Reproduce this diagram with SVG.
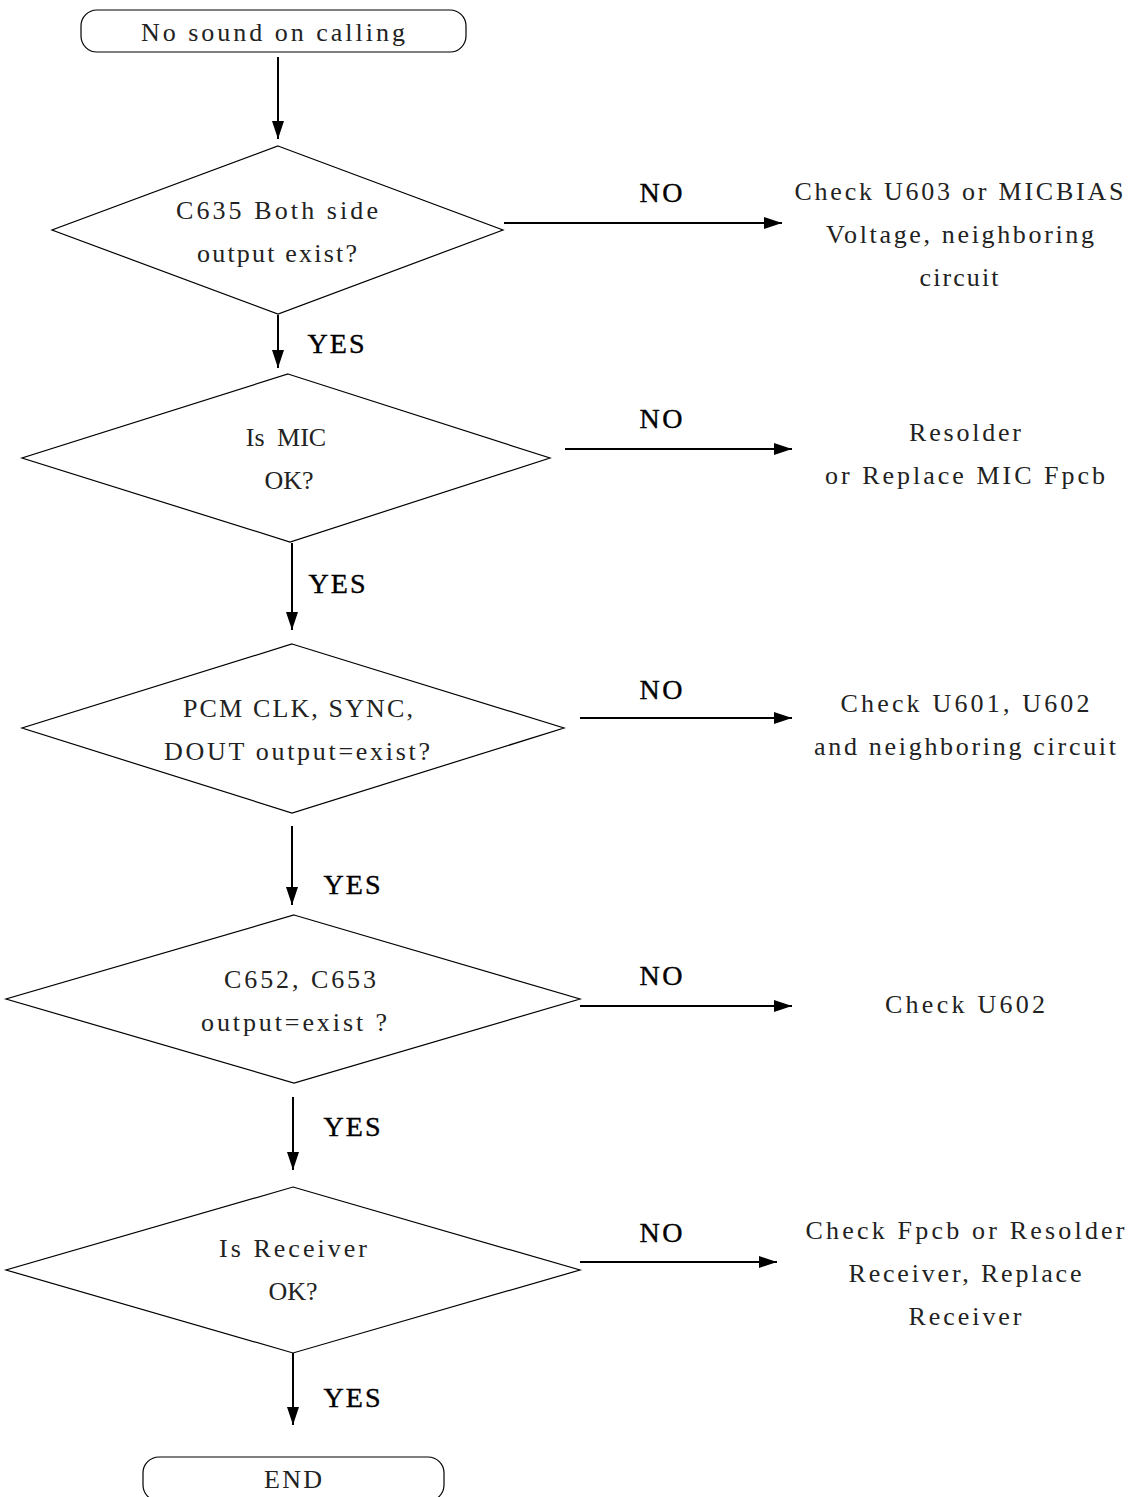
<svg xmlns="http://www.w3.org/2000/svg" width="1131" height="1497" viewBox="0 0 1131 1497">
<defs>
<marker id="ah" markerUnits="userSpaceOnUse" markerWidth="18" markerHeight="12" refX="18" refY="6" orient="auto">
<path d="M0,0 L18,6 L0,12 z" fill="#000"/>
</marker>
<style>
.shape{fill:#fff;stroke:#000;stroke-width:1.2}
.t{font-family:"Liberation Serif","DejaVu Serif",serif;font-size:26px;fill:#222;text-anchor:middle}
.lbl{font-family:"Liberation Serif","DejaVu Serif",serif;font-size:28px;fill:#000;text-anchor:middle;stroke:#000;stroke-width:0.4}
.c{stroke:#000;stroke-width:2;fill:none;marker-end:url(#ah)}
</style>
</defs>
<rect width="1131" height="1497" fill="#fff"/>
<g id="connectors">
<line class="c" x1="278" y1="57" x2="278" y2="139"/>
<line class="c" x1="278" y1="315" x2="278" y2="368"/>
<line class="c" x1="504" y1="223" x2="782" y2="223"/>
<line class="c" x1="292" y1="543" x2="292" y2="630"/>
<line class="c" x1="565" y1="449" x2="792" y2="449"/>
<line class="c" x1="580" y1="718" x2="792" y2="718"/>
<line class="c" x1="292" y1="826" x2="292" y2="905"/>
<line class="c" x1="580" y1="1006" x2="792" y2="1006"/>
<line class="c" x1="293" y1="1097" x2="293" y2="1170"/>
<line class="c" x1="580" y1="1262" x2="777" y2="1262"/>
<line class="c" x1="293" y1="1353" x2="293" y2="1425"/>
<text class="lbl" x="661" y="202" textLength="43">NO</text>
<text class="lbl" x="336" y="353" textLength="57">YES</text>
<text class="lbl" x="661" y="428" textLength="43">NO</text>
<text class="lbl" x="337" y="593" textLength="57">YES</text>
<text class="lbl" x="661" y="699" textLength="43">NO</text>
<text class="lbl" x="352" y="894" textLength="57">YES</text>
<text class="lbl" x="661" y="985" textLength="43">NO</text>
<text class="lbl" x="352" y="1136" textLength="57">YES</text>
<text class="lbl" x="661" y="1242" textLength="43">NO</text>
<text class="lbl" x="352" y="1407" textLength="57">YES</text>
</g>
<g id="start">
<rect class="shape" x="81" y="10" width="385" height="42" rx="16"/>
<text class="t" x="273" y="41" textLength="264">No sound on calling</text>
</g>
<g id="d1">
<polygon class="shape" points="278,146 503,230 278,314 52,230"/>
<text class="t" x="277" y="219" textLength="202">C635 Both side</text>
<text class="t" x="277" y="262" textLength="160">output exist?</text>
</g>
<g id="r1">
<text class="t" x="959" y="200" textLength="329">Check U603 or MICBIAS</text>
<text class="t" x="960" y="243" textLength="268">Voltage, neighboring</text>
<text class="t" x="959" y="286" textLength="79">circuit</text>
</g>
<g id="d2">
<polygon class="shape" points="288,374 550,458 290,542 22,458"/>
<text class="t" x="286" y="446" word-spacing="6">Is MIC</text>
<text class="t" x="289" y="489">OK?</text>
</g>
<g id="r2">
<text class="t" x="965" y="441" textLength="112">Resolder</text>
<text class="t" x="965" y="484" textLength="280">or Replace MIC Fpcb</text>
</g>
<g id="d3">
<polygon class="shape" points="292,644 564,728 292,813 22,728"/>
<text class="t" x="298" y="717" textLength="230">PCM CLK, SYNC,</text>
<text class="t" x="297" y="760" textLength="266">DOUT output=exist?</text>
</g>
<g id="r3">
<text class="t" x="965" y="712" textLength="249">Check U601, U602</text>
<text class="t" x="965" y="755" textLength="302">and neighboring circuit</text>
</g>
<g id="d4">
<polygon class="shape" points="294,915 580,999 294,1083 6,999"/>
<text class="t" x="300" y="988" textLength="152">C652, C653</text>
<text class="t" x="294" y="1031" textLength="186">output=exist ?</text>
</g>
<g id="r4">
<text class="t" x="965" y="1013" textLength="160">Check U602</text>
</g>
<g id="d5">
<polygon class="shape" points="293,1187 580,1270 293,1353 6,1270"/>
<text class="t" x="293" y="1257" textLength="148">Is Receiver</text>
<text class="t" x="293" y="1300">OK?</text>
</g>
<g id="r5">
<text class="t" x="965" y="1239" textLength="319">Check Fpcb or Resolder</text>
<text class="t" x="965" y="1282" textLength="233">Receiver, Replace</text>
<text class="t" x="965" y="1325" textLength="113">Receiver</text>
</g>
<g id="end">
<rect class="shape" x="143" y="1457" width="301" height="44" rx="16"/>
<text class="t" x="293" y="1488" textLength="58">END</text>
</g>
</svg>
